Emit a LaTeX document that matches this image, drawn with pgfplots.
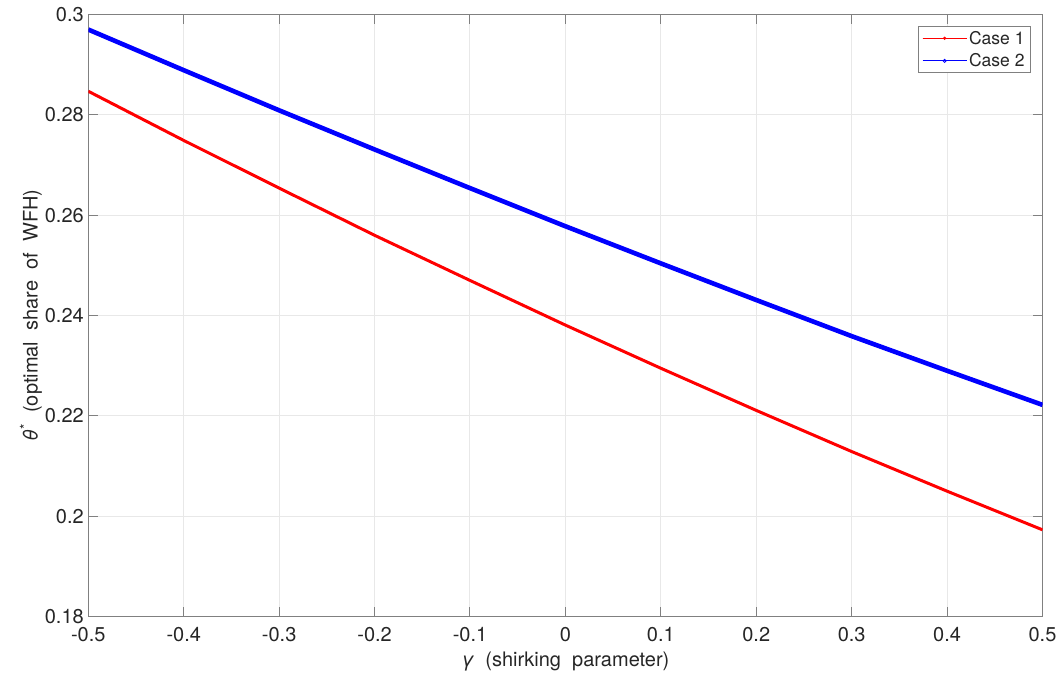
\documentclass[border=0pt]{standalone}
\usepackage{pgfplots}
\pgfplotsset{compat=1.18}
\usepackage{fontspec}
\setmainfont{TeX Gyre Heros}

\definecolor{axgray}{RGB}{128,128,128}
\definecolor{txtgray}{RGB}{38,38,38}

\pgfplotstableread{
x      c1      c2
-0.5   0.2847  0.2970
-0.4   0.2749  0.2889
-0.3   0.2654  0.2809
-0.2   0.2560  0.2731
-0.1   0.2470  0.2654
 0.0   0.2381  0.2578
 0.1   0.2295  0.2504
 0.2   0.2211  0.2431
 0.3   0.2129  0.2359
 0.4   0.2050  0.2290
 0.5   0.1973  0.2222
}\shirking

\begin{document}
\begin{tikzpicture}
\useasboundingbox (-88.3pt,-64pt) rectangle (973.5pt,616.5pt);
\begin{axis}[
    width=954pt, height=602pt, scale only axis,
    xmin=-0.5, xmax=0.5, ymin=0.18, ymax=0.3,
    xtick={-0.5,-0.4,-0.3,-0.2,-0.1,0,0.1,0.2,0.3,0.4,0.5},
    xticklabels={-0.5,-0.4,-0.3,-0.2,-0.1,0,0.1,0.2,0.3,0.4,0.5},
    ytick={0.18,0.2,0.22,0.24,0.26,0.28,0.3},
    yticklabels={0.18,0.2,0.22,0.24,0.26,0.28,0.3},
    tick align=inside,
    major tick length=9.5pt,
    grid=major,
    grid style={black!9, line width=1pt},
    axis line style={axgray, line width=1pt},
    tick style={axgray, line width=1pt},
    tick label style={font=\fontsize{20}{24}\selectfont, text=txtgray},
    xticklabel style={yshift=-7pt},
    yticklabel style={xshift=-1pt},
    xlabel={\textit{γ}\ \ (shirking\ \ parameter)},
    ylabel={\textit{θ}\textsuperscript{*}\ \ (optimal\ \ share\ \ of\ \ WFH)},
    label style={font=\fontsize{20}{24}\selectfont, text=txtgray},
    xlabel style={yshift=-3pt},
    ylabel style={yshift=-4pt},
    legend style={at={(1,1)}, anchor=north east, xshift=-11.5pt, yshift=-11.5pt,
        font=\fontsize{17.5}{21}\selectfont, text=txtgray, draw=axgray,
        line width=1pt, inner xsep=4pt, inner ysep=2.5pt, row sep=4pt,
        nodes={inner xsep=2pt}},
    legend cell align=left,
    legend image code/.code={
        \draw[mark repeat=2, mark phase=2, #1]
        plot coordinates {(0pt,0pt) (22pt,0pt) (44pt,0pt)};
    },
]
\addplot[red, line width=3pt, forget plot] table[x=x, y=c1] {\shirking};
\addplot[blue, line width=4.6pt, forget plot] table[x=x, y=c2] {\shirking};
\addlegendimage{draw=red, fill=red, line width=0.9pt, mark=*, mark size=1.1pt}
\addlegendentry{Case 1}
\addlegendimage{draw=blue, line width=0.9pt, mark=o, mark size=1.6pt, mark options={draw=blue, line width=0.8pt}}
\addlegendentry{Case 2}
\end{axis}
\end{tikzpicture}
\end{document}
